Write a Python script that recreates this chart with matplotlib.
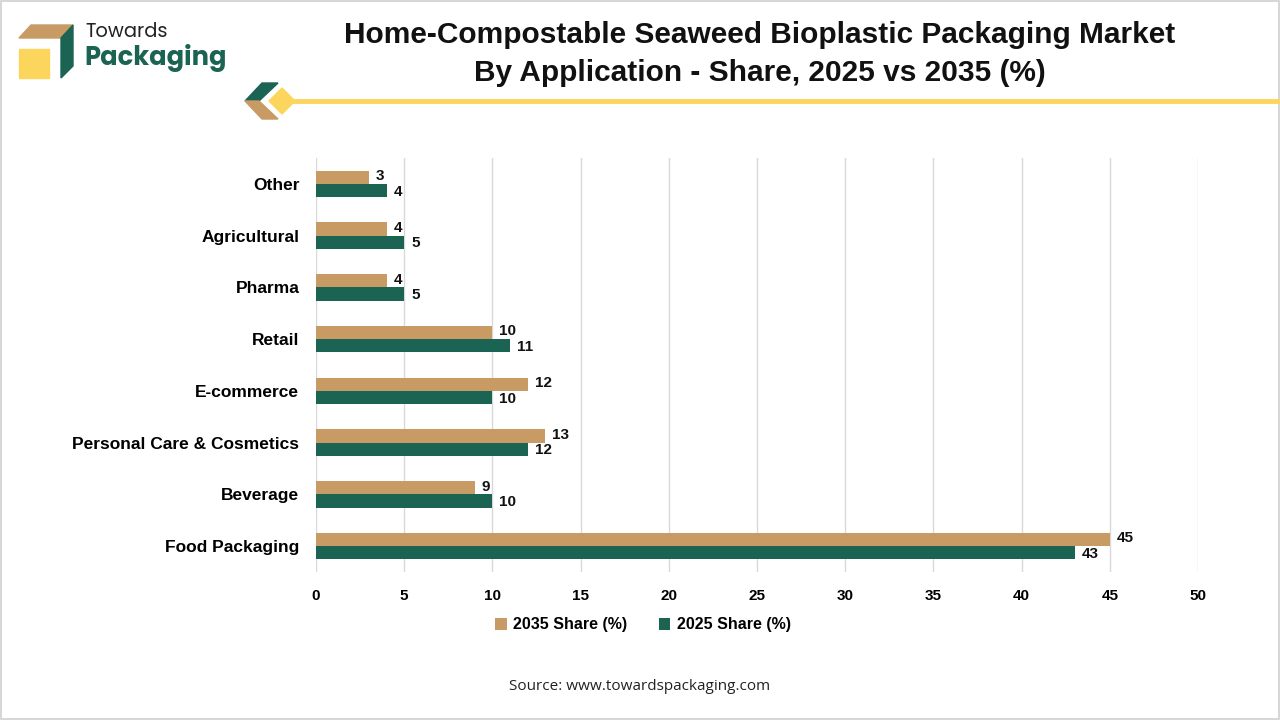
import matplotlib
matplotlib.use("Agg")
import matplotlib.pyplot as plt
from matplotlib.patches import Polygon, Rectangle
import numpy as np

categories = ["Food Packaging", "Beverage", "Personal Care & Cosmetics", "E-commerce",
              "Retail", "Pharma", "Agricultural", "Other"]
share_2035 = [45, 9, 13, 12, 10, 4, 4, 3]
share_2025 = [43, 10, 12, 10, 11, 5, 5, 4]
xticks = [0, 5, 10, 15, 20, 25, 30, 35, 40, 45, 50]

TAN = "#C89A64"
GREEN = "#1B6352"
YELLOW = "#FCD55C"

plt.rcParams['font.family'] = ['Liberation Sans', 'DejaVu Sans']

fig = plt.figure(figsize=(12.8, 7.2), dpi=100)
W, H = 1280, 720

def fx(px): return px / W
def fy(py): return 1 - py / H

ax = fig.add_axes([fx(316), fy(572), fx(1198) - fx(316), fy(158) - fy(572)])
y = np.arange(len(categories))
bh = 0.255
ax.barh(y + bh / 2, share_2035, height=bh, color=TAN, label="2035 Share (%)", zorder=3)
ax.barh(y - bh / 2, share_2025, height=bh, color=GREEN, label="2025 Share (%)", zorder=3)
for yi, v in zip(y, share_2035):
    ax.text(v + 0.4, yi + bh / 2 + 0.02, str(v), va="center", ha="left",
            fontsize=11, fontweight="bold", color="#111111")
for yi, v in zip(y, share_2025):
    ax.text(v + 0.4, yi - bh / 2 - 0.02, str(v), va="center", ha="left",
            fontsize=11, fontweight="bold", color="#111111")
ax.set_xlim(0, 50)
ax.set_ylim(-0.5, len(categories) - 0.5)
ax.set_xticks(xticks)
ax.set_xticklabels([str(t) for t in xticks], fontsize=11, fontweight="bold")
ax.set_yticks(y)
ax.set_yticklabels(categories, fontsize=12.5, fontweight="bold")
ax.tick_params(axis="x", length=0, pad=12)
ax.tick_params(axis="y", length=0, pad=12)
ax.grid(axis="x", color="#D9D9D9", linewidth=1, zorder=0)
for s in ax.spines.values():
    s.set_visible(False)

leg = fig.legend(loc="center", bbox_to_anchor=(fx(643), fy(625)), ncol=2, frameon=False,
                 prop={"weight": "bold", "size": 11.5}, handlelength=0.7, handleheight=0.7,
                 handletextpad=0.4, columnspacing=2.0)

fig.text(fx(640), fy(686), "Source: www.towardspackaging.com", ha="center", va="center",
         fontsize=11, family=["Open Sans", "DejaVu Sans"], color="#222222")

fig.text(fx(760), fy(35), "Home-Compostable Seaweed Bioplastic Packaging Market",
         ha="center", va="center", fontsize=21.5, fontweight="bold", color="#111111")
fig.text(fx(760), fy(73), "By Application - Share, 2025 vs 2035 (%)",
         ha="center", va="center", fontsize=21.5, fontweight="bold", color="#111111")

# decorative line
fig.add_artist(plt.Line2D([fx(285), fx(1280)], [fy(101), fy(101)], color=YELLOW, linewidth=3.5,
                          transform=fig.transFigure))
def poly(pts, color):
    fig.add_artist(Polygon([(fx(a), fy(b)) for a, b in pts], closed=True, color=color,
                           transform=fig.transFigure))
poly([(262, 83), (278, 83), (259, 101), (245, 101)], GREEN)
poly([(245, 101), (259, 101), (278, 119), (262, 119)], TAN)
poly([(282, 88), (295, 101), (282, 114), (269, 101)], YELLOW)

# logo
poly([(19, 38), (31, 25), (73, 25), (61, 38)], TAN)
poly([(61, 38), (73, 25), (73, 66), (61, 78)], GREEN)
fig.add_artist(Rectangle((fx(19), fy(78)), fx(49) - fx(19), fy(49) - fy(78),
                         color=YELLOW, transform=fig.transFigure))
fig.text(fx(85), fy(32), "Towards", ha="left", va="center", fontsize=14,
         family=["Poppins", "Lato", "DejaVu Sans"], color="#222222")
fig.text(fx(84), fy(58), "Packaging", ha="left", va="center", fontsize=18.5, fontweight="bold",
         family=["Poppins", "Lato", "DejaVu Sans"], color=GREEN)

# frame
fig.add_artist(Rectangle((0.001, 0.001), 0.998, 0.997, fill=False, edgecolor="#D0D0D0",
                         linewidth=1.2, transform=fig.transFigure))

fig.savefig("out.png", dpi=100, facecolor="white")
